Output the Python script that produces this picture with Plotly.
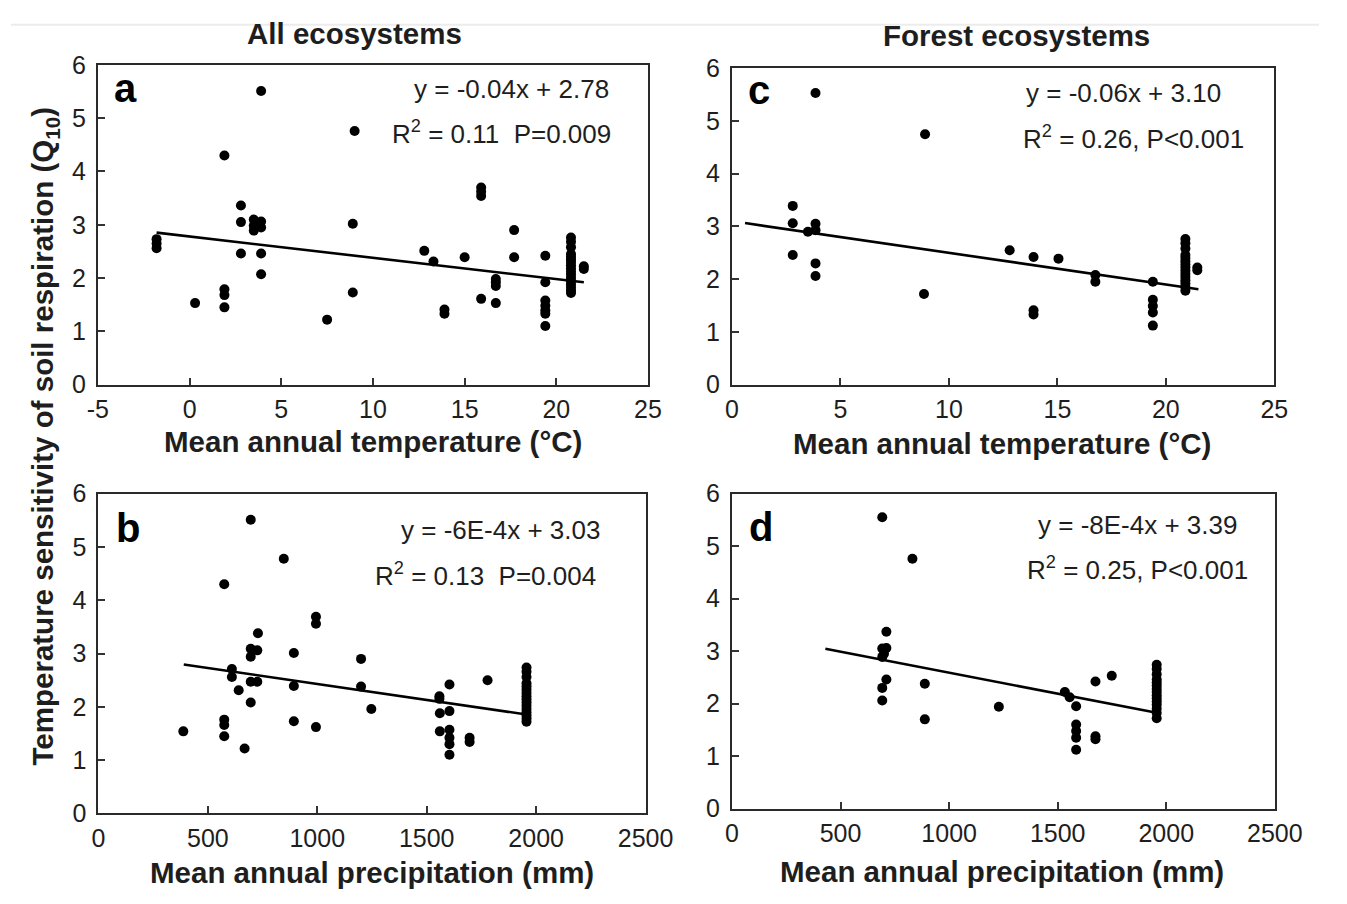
import plotly.graph_objects as go

W, H = 1347, 904
FONT = "Liberation Sans, Arial, sans-serif"
INK = "#1e1e1e"

# ---------------- data ----------------
# (a) all ecosystems: mean annual temperature (deg C) vs Q10
mat_all = [-1.8, -1.8, -1.8, 0.3, 1.9, 1.9, 1.9, 1.9, 2.8, 2.8, 2.8,
           3.5, 3.5, 3.5, 3.9, 3.9, 3.7, 3.9, 3.9, 3.9,
           7.5, 9.0, 8.9, 8.9, 12.8, 13.3, 13.9, 13.9, 15.0,
           15.9, 15.9, 15.9, 15.9, 16.7, 16.7, 16.7, 16.7, 17.7, 17.7,
           19.4, 19.4, 19.4, 19.4, 19.4, 19.4, 19.4,
           20.8, 20.8, 20.8, 20.8, 20.8, 20.8, 20.8, 20.8, 20.8,
           20.8, 20.8, 20.8, 20.8, 20.8, 20.8, 20.8, 20.8,
           21.5, 21.5]
q10_mat_all = [2.73, 2.65, 2.56, 1.53, 4.30, 1.79, 1.68, 1.45, 3.36, 3.05, 2.46,
               3.10, 2.98, 2.89, 3.06, 2.95, 3.01, 5.51, 2.46, 2.07,
               1.22, 4.76, 3.02, 1.73, 2.51, 2.31, 1.41, 1.33, 2.39,
               3.70, 3.62, 3.54, 1.61, 1.98, 1.92, 1.85, 1.53, 2.90, 2.39,
               2.42, 1.92, 1.58, 1.48, 1.39, 1.33, 1.10,
               2.76, 2.68, 2.58, 2.45, 2.40, 2.35, 2.30, 2.24, 2.18,
               2.12, 2.06, 2.00, 1.94, 1.88, 1.82, 1.76, 1.72,
               2.22, 2.17]

# (b) all ecosystems: mean annual precipitation (mm) vs Q10
map_all = [388, 575, 575, 575, 575, 696, 847, 610, 610, 641, 668,
           696, 696, 696, 726, 729, 696, 726,
           893, 893, 893, 994, 994, 994, 1200, 1200, 1247,
           1558, 1558, 1604, 1560, 1604, 1560, 1604, 1604, 1604, 1604,
           1696, 1696, 1778,
           1956, 1956, 1956, 1956, 1956, 1956, 1956, 1956, 1956,
           1956, 1956, 1956, 1956, 1956, 1956, 1956]
q10_map_all = [1.54, 4.30, 1.76, 1.66, 1.45, 5.51, 4.78, 2.71, 2.56, 2.31, 1.22,
               2.08, 3.09, 2.94, 3.06, 3.38, 2.47, 2.47,
               3.01, 2.39, 1.73, 3.69, 3.56, 1.62, 2.90, 2.38, 1.96,
               2.20, 2.15, 2.42, 1.88, 1.92, 1.54, 1.57, 1.42, 1.30, 1.10,
               1.42, 1.34, 2.50,
               2.74, 2.66, 2.56, 2.44, 2.38, 2.32, 2.26, 2.20, 2.14,
               2.08, 2.02, 1.96, 1.90, 1.84, 1.78, 1.72]

# (c) forest ecosystems: mean annual temperature vs Q10
mat_forest = [3.85, 8.9, 2.8, 2.8, 2.8, 3.5, 3.85, 3.85, 3.85, 3.85,
              8.85, 12.8, 13.9, 13.9, 13.9, 15.05, 16.75, 16.75,
              19.4, 19.4, 19.4, 19.4, 19.4,
              20.9, 20.9, 20.9, 20.9, 20.9, 20.9, 20.9, 20.9, 20.9,
              20.9, 20.9, 20.9, 20.9, 20.9, 20.9,
              21.45, 21.45]
q10_mat_forest = [5.53, 4.75, 3.39, 3.06, 2.46, 2.90, 3.05, 2.93, 2.30, 2.06,
                  1.72, 2.55, 2.42, 1.41, 1.33, 2.39, 2.08, 1.95,
                  1.95, 1.61, 1.49, 1.37, 1.12,
                  2.76, 2.68, 2.58, 2.46, 2.40, 2.34, 2.28, 2.22, 2.16,
                  2.10, 2.04, 1.98, 1.92, 1.85, 1.78, 2.22, 2.17]

# (d) forest ecosystems: mean annual precipitation vs Q10
map_forest = [692, 831, 711, 692, 711, 692, 700, 711, 692, 692,
              888, 888, 1229, 1533, 1555, 1585, 1585, 1585, 1585, 1585,
              1674, 1749, 1674, 1674,
              1956, 1956, 1956, 1956, 1956, 1956, 1956, 1956, 1956,
              1956, 1956, 1956, 1956, 1956, 1956]
q10_map_forest = [5.55, 4.76, 3.37, 3.05, 3.06, 2.89, 2.95, 2.46, 2.30, 2.06,
                  2.38, 1.70, 1.94, 2.22, 2.12, 1.95, 1.60, 1.48, 1.35, 1.12,
                  2.42, 2.53, 1.38, 1.32,
                  2.74, 2.66, 2.56, 2.46, 2.40, 2.34, 2.28, 2.22, 2.16,
                  2.10, 2.04, 1.98, 1.90, 1.82, 1.72]

# linear regressions: slope, intercept and fitted x-range
fit_a = (-0.04, 2.78, [-1.8, 21.5])
fit_b = (-6e-4, 3.03, [390, 1956])
fit_c = (-0.06, 3.10, [0.6, 21.5])
fit_d = (-8e-4, 3.39, [430, 1956])

stats_a = ["y = -0.04x + 2.78", "R<sup>2</sup> = 0.11  P=0.009"]
stats_b = ["y = -6E-4x + 3.03", "R<sup>2</sup> = 0.13  P=0.004"]
stats_c = ["y = -0.06x + 3.10", "R<sup>2</sup> = 0.26, P<0.001"]
stats_d = ["y = -8E-4x + 3.39", "R<sup>2</sup> = 0.25, P<0.001"]

x_ticks_mat = [-5, 0, 5, 10, 15, 20, 25]
x_ticks_map = [0, 500, 1000, 1500, 2000, 2500]
y_ticks = [0, 1, 2, 3, 4, 5, 6]


def px(x):
    return x / W


def py(y):
    return 1 - y / H


fig = go.Figure()

# panel boxes in pixels: (left, top, right, bottom)
panels = [
    dict(key="", box=(89.5, 52.5, 656, 382.5), xr=[-5, 25], ticks=x_ticks_mat,
         x=mat_all, y=q10_mat_all, fit=fit_a, stats=stats_a, letter="a",
         lpos=(118, 76), spos=[(515, 77), (505, 122)]),
    dict(key="2", box=(742.5, 56, 1301, 382.5), xr=[0, 25], ticks=x_ticks_mat[1:],
         x=mat_forest, y=q10_mat_forest, fit=fit_c, stats=stats_c, letter="c",
         lpos=(770, 78), spos=[(1146, 82), (1156, 127)]),
    dict(key="3", box=(90, 495, 653.5, 825), xr=[0, 2500], ticks=x_ticks_map,
         x=map_all, y=q10_map_all, fit=fit_b, stats=stats_b, letter="b",
         lpos=(120, 530), spos=[(504, 532), (489, 578)]),
    dict(key="4", box=(742.5, 495, 1301.5, 820), xr=[0, 2500], ticks=x_ticks_map,
         x=map_forest, y=q10_map_forest, fit=fit_d, stats=stats_d, letter="d",
         lpos=(772, 529), spos=[(1160, 527), (1160, 572)]),
]

annotations = []
for p in panels:
    k = p["key"]
    l, t, r, b = p["box"]
    xa, ya = "x" + k, "y" + k
    fig.add_trace(go.Scatter(
        x=p["x"], y=p["y"], mode="markers", xaxis=xa, yaxis=ya,
        marker=dict(color="black", size=10, line=dict(width=0)),
        showlegend=False, hoverinfo="x+y"))
    slope, icpt, xr = p["fit"]
    fig.add_trace(go.Scatter(
        x=xr, y=[slope * v + icpt for v in xr], mode="lines",
        xaxis=xa, yaxis=ya, line=dict(color="black", width=2.6),
        showlegend=False, hoverinfo="skip"))
    axis_common = dict(
        showline=True, linewidth=2.2, linecolor="#2a2a2a", mirror=True,
        ticks="inside", ticklen=7, tickwidth=1.5, tickcolor="#333",
        showgrid=False, zeroline=False, fixedrange=True,
        tickfont=dict(family=FONT, size=25, color=INK))
    fig.update_layout(**{
        "xaxis" + k: dict(domain=[px(l), px(r)], range=p["xr"],
                          tickvals=p["ticks"], ticktext=[str(v) for v in p["ticks"]],
                          anchor=ya, ticklabelstandoff=1, **axis_common),
        "yaxis" + k: dict(domain=[py(b), py(t)], range=[0, 6],
                          tickvals=y_ticks, ticktext=[str(v) for v in y_ticks],
                          anchor=xa, ticklabelstandoff=5, **axis_common),
    })
    annotations.append(dict(
        x=px(p["lpos"][0]), y=py(p["lpos"][1]), xref="paper", yref="paper",
        text="<b>%s</b>" % p["letter"], showarrow=False,
        font=dict(family=FONT, size=40, color="black"),
        xanchor="center", yanchor="middle"))
    for (sx, sy), txt in zip(p["spos"], p["stats"]):
        annotations.append(dict(
            x=px(sx), y=py(sy), xref="paper", yref="paper", text=txt,
            showarrow=False, font=dict(family=FONT, size=26, color=INK),
            xanchor="center", yanchor="middle"))

# column titles, axis titles
bold = dict(family=FONT, size=29.5, color=INK)
for txt, x, y in [("All ecosystems", 354, 20), ("Forest ecosystems", 1035, 22),
                  ("Mean annual temperature (°C)", 373, 441),
                  ("Mean annual temperature (°C)", 1021, 443),
                  ("Mean annual precipitation (mm)", 372, 886),
                  ("Mean annual precipitation (mm)", 1021, 885)]:
    annotations.append(dict(x=px(x), y=py(y), xref="paper", yref="paper",
                            text="<b>%s</b>" % txt, showarrow=False, font=bold,
                            xanchor="center", yanchor="middle"))
annotations.append(dict(
    x=px(35), y=py(436), xref="paper", yref="paper", textangle=-90,
    text="<b>Temperature sensitivity of soil respiration (Q<sub>10</sub>)</b>",
    showarrow=False, font=bold, xanchor="center", yanchor="middle"))

fig.update_layout(
    width=W, height=H, margin=dict(l=0, r=0, t=0, b=0),
    paper_bgcolor="white", plot_bgcolor="white",
    annotations=annotations,
    shapes=[dict(type="line", xref="paper", yref="paper", x0=0, x1=1,
                 y0=py(11), y1=py(11), line=dict(color="#ececec", width=2))],
)

fig.write_html("out.html", config={"displayModeBar": False})
